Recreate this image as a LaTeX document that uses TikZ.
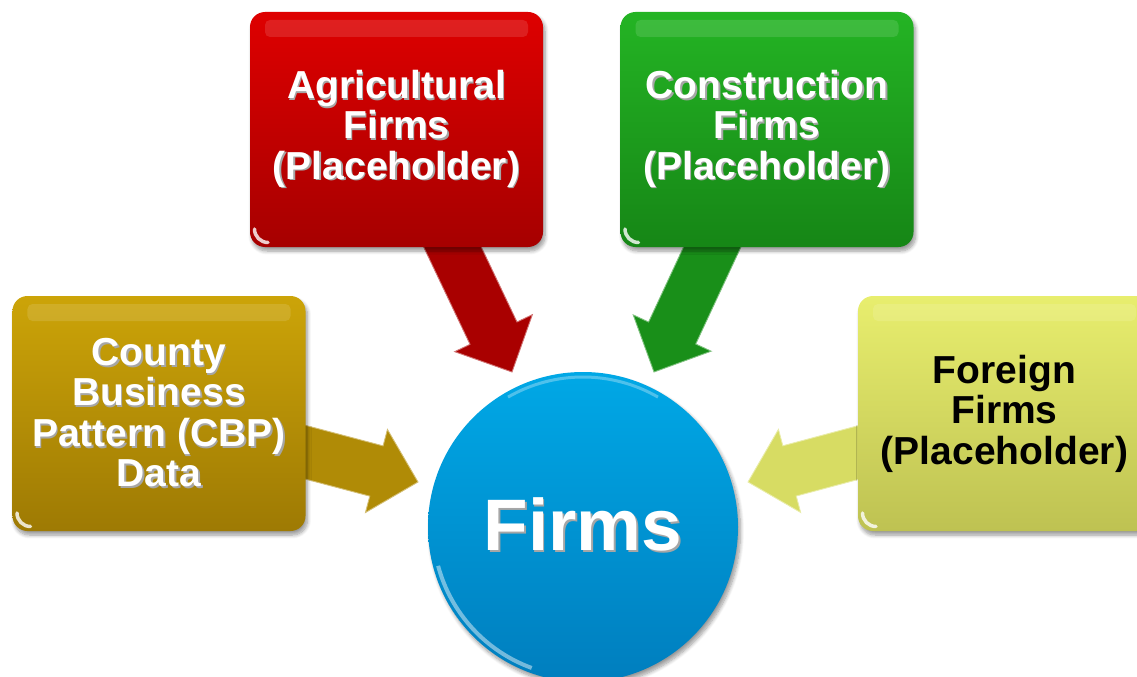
\documentclass[tikz,border=0pt]{standalone}
\usepackage{fontspec}
\setmainfont{Liberation Sans}
\usetikzlibrary{calc, backgrounds, shadows.blur}

\definecolor{agritop}{RGB}{222,0,0}
\definecolor{agribot}{RGB}{166,0,0}
\definecolor{constrtop}{RGB}{36,180,36}
\definecolor{constrbot}{RGB}{22,134,22}
\definecolor{cbptop}{RGB}{204,164,8}
\definecolor{cbpbot}{RGB}{158,122,4}
\definecolor{foreigntop}{RGB}{232,238,110}
\definecolor{foreignbot}{RGB}{190,194,82}
\definecolor{hubtop}{RGB}{0,168,230}
\definecolor{hubbot}{RGB}{0,126,190}

\newcommand{\tilefont}{\fontsize{22.2}{23}\selectfont\bfseries}
\newcommand{\hubfont}{\fontsize{41.5}{44}\selectfont\bfseries}
\newcommand{\lifted}[1]{\leavevmode\rlap{\hspace{0.03cm}\raisebox{-0.035cm}{\color{black!35}#1}}#1}

\tikzstyle{tile} = [rectangle, rounded corners=0.3cm, minimum width=5.86cm, minimum height=4.7cm,
                    align=center, font=\tilefont, text=white,
                    blur shadow={shadow xshift=0.04cm, shadow yshift=-0.08cm, shadow blur steps=8, shadow opacity=40},
                    path picture={
                      \fill[white, opacity=0.12, rounded corners=0.1cm]
                        ([xshift=0.3cm, yshift=-0.16cm]path picture bounding box.north west)
                        rectangle ([xshift=-0.3cm, yshift=-0.5cm]path picture bounding box.north east);
                      \draw[white, opacity=0.8, line width=0.07cm, line cap=round]
                        ([xshift=0.09cm, yshift=0.36cm]path picture bounding box.south west) arc (180:270:0.27cm);
                    }]
\tikzstyle{hub} = [circle, minimum size=6.2cm, inner sep=0, top color=hubtop, bottom color=hubbot,
                   font=\hubfont, text=white,
                   blur shadow={shadow xshift=0.05cm, shadow yshift=-0.08cm, shadow blur steps=8, shadow opacity=40},
                   path picture={
                     \draw[white, opacity=0.45, line width=0.08cm]
                       ([shift={(195:3.0cm)}]path picture bounding box.center) arc (195:250:3.0cm);
                     \draw[white, opacity=0.3, line width=0.06cm]
                       ([shift={(60:3.0cm)}]path picture bounding box.center) arc (60:120:3.0cm);
                   }]

% block arrow from #1 to #2, filled with #3
\newcommand{\flowarrow}[3]{%
  \coordinate (hb) at ($(#2)!0.86cm!(#1)$);
  \filldraw[fill=#3, draw=#3!55!white, line width=0.5pt, line join=miter]
    ($(#1)!0.52cm!90:(#2)$) -- ($(hb)!0.52cm!90:(#2)$) -- ($(hb)!0.86cm!90:(#2)$) -- (#2)
    -- ($(hb)!0.86cm!-90:(#2)$) -- ($(hb)!0.52cm!-90:(#2)$) -- ($(#1)!0.52cm!-90:(#2)$) -- cycle;
}

\begin{document}
\begin{tikzpicture}
  \path[use as bounding box, clip] (0, 0) rectangle (22.74, -13.54);

  % boxes around the hub
  \node (Agri) [tile, top color=agritop, bottom color=agribot] at (7.93, -2.59)
    {\lifted{Agricultural}\\ \lifted{Firms}\\ \lifted{(Placeholder)}};
  \node (Constr) [tile, top color=constrtop, bottom color=constrbot] at (15.34, -2.59)
    {\lifted{Construction}\\ \lifted{Firms}\\ \lifted{(Placeholder)}};
  \node (CBP) [tile, top color=cbptop, bottom color=cbpbot] at (3.18, -8.27)
    {\lifted{County}\\ \lifted{Business}\\ \lifted{Pattern (CBP)}\\ \lifted{Data}};
  \node (Foreign) [tile, top color=foreigntop, bottom color=foreignbot, text=black] at (20.09, -8.27)
    {Foreign\\ Firms\\ (Placeholder)};

  % hub
  \node (Firms) [hub] at (11.66, -10.54) {\raisebox{0.1cm}{\lifted{Firms}}};

  % arrow tips
  \coordinate (AgriTip) at (10.24, -7.44);
  \coordinate (ConstrTip) at (13.08, -7.44);
  \coordinate (CBPTip) at (8.36, -9.64);
  \coordinate (ForeignTip) at (14.96, -9.64);

  \begin{scope}[on background layer]
    \flowarrow{Agri.center}{AgriTip}{agribot!95!agritop}
    \flowarrow{Constr.center}{ConstrTip}{constrbot!80!constrtop}
    \flowarrow{CBP.center}{CBPTip}{cbpbot!60!cbptop}
    \flowarrow{Foreign.center}{ForeignTip}{foreignbot!40!foreigntop}
  \end{scope}
\end{tikzpicture}
\end{document}
